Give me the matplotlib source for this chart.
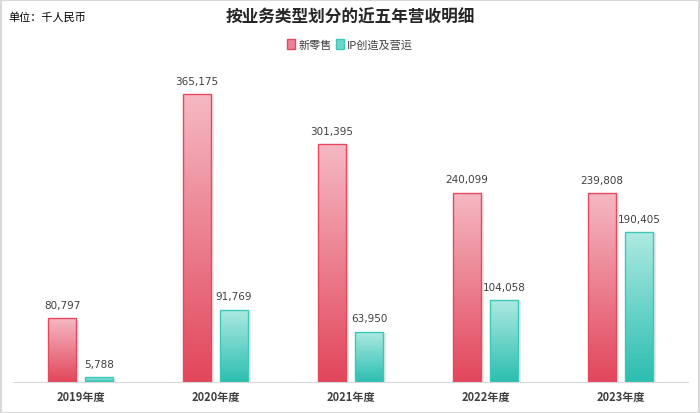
import numpy as np
import matplotlib
matplotlib.use("Agg")
from matplotlib import pyplot as plt
from matplotlib import patheffects as pe
from matplotlib.colors import LinearSegmentedColormap
from matplotlib.patches import Patch

plt.rcParams["font.family"] = ["Noto Sans CJK SC", "DejaVu Sans"]

years = ["2019年度", "2020年度", "2021年度", "2022年度", "2023年度"]
retail = [80797, 365175, 301395, 240099, 239808]
ip_ops = [5788, 91769, 63950, 104058, 190405]
series_names = ["新零售", "IP创造及营运"]

red_cmap = LinearSegmentedColormap.from_list("red", ["#e2465b", "#f5b9c3"])
teal_cmap = LinearSegmentedColormap.from_list("teal", ["#2bbeb0", "#afeae2"])

fig = plt.figure(figsize=(7.0, 4.14), dpi=100)
ax = fig.add_axes([0.0186, 0.0749, 0.9643, 0.780])

x = np.arange(len(years))
width = 0.207
offset = 0.137
ymax = 409600
gradient = np.linspace(0, 1, 256).reshape(-1, 1)


def gradient_bars(xs, vals, cmap, edge):
    bars = ax.bar(xs, vals, width, facecolor="none", edgecolor=edge,
                  linewidth=1.0, zorder=3)
    for b, v in zip(bars, vals):
        x0 = b.get_x()
        # light at the top, dark at the base, per bar
        im = ax.imshow(gradient, cmap=cmap, origin="lower", aspect="auto",
                       extent=[x0, x0 + b.get_width(), 0, v], zorder=2,
                       vmin=0, vmax=1)
        im.set_clip_path(b)
        shadow = plt.Rectangle((x0, 0), b.get_width(), v, facecolor="#000000",
                               edgecolor="none", zorder=1,
                               path_effects=[pe.SimplePatchShadow(offset=(2, -1), alpha=0.12)])
        shadow.set_alpha(0)
        ax.add_patch(shadow)
        ax.annotate(f"{v:,}", xy=(b.get_x() + b.get_width() / 2, v),
                    xytext=(0, 6), textcoords="offset points",
                    ha="center", va="bottom", fontsize=7.5, color="#404040",
                    family=["DejaVu Sans"])
    return bars


gradient_bars(x - offset, retail, red_cmap, "#e8485e")
gradient_bars(x + offset, ip_ops, teal_cmap, "#3cc8b8")

ax.set_xlim(-0.5, len(years) - 0.5)
ax.set_ylim(0, ymax)
ax.set_xticks(x)
ax.set_xticklabels(years, fontsize=8, fontweight="bold", color="#404040")
ax.tick_params(axis="x", length=0, pad=6)
ax.set_yticks([])
for s in ["top", "right", "left"]:
    ax.spines[s].set_visible(False)
ax.spines["bottom"].set_color("#d9d9d9")

fig.text(0.5, 0.958, "按业务类型划分的近五年营收明细", ha="center", va="center",
         fontsize=12, fontweight="bold", color="#262626")
fig.text(0.012, 0.958, "单位：千人民币", ha="left", va="center",
         fontsize=8, color="#000000")

# legend
handles = [Patch(facecolor="#ec8495", edgecolor="#e8485e"),
           Patch(facecolor="#6fd5c9", edgecolor="#3cc8b8")]
fig.legend(handles, series_names, loc="center", bbox_to_anchor=(0.5, 0.89),
           ncol=2, frameon=False, fontsize=8, handlelength=0.7,
           handleheight=0.9, handletextpad=0.3, columnspacing=0.4,
           labelcolor="#404040")

# light frame around the whole picture
fig.patches.append(plt.Rectangle((0.001, 0.001), 0.998, 0.997, transform=fig.transFigure,
                                 fill=False, edgecolor="#d9d9d9", linewidth=1.5))

fig.savefig("out.png", dpi=100)
